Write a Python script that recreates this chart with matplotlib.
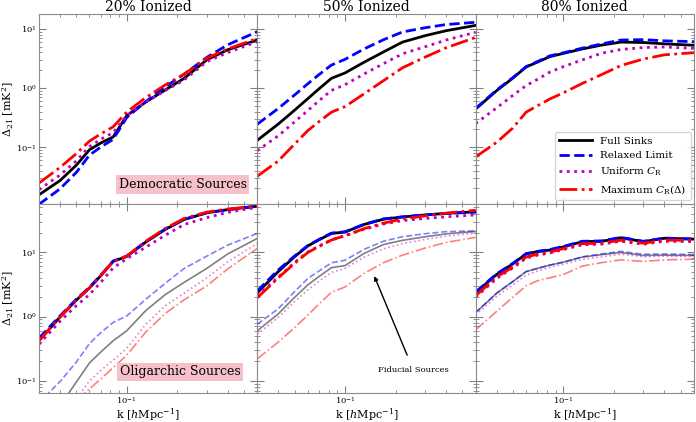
import numpy as np
import matplotlib
matplotlib.use("Agg")
import matplotlib.pyplot as plt

plt.rcParams["font.family"] = "serif"
plt.rcParams["font.serif"] = ["DejaVu Serif"]
plt.rcParams["mathtext.fontset"] = "dejavuserif"

# k bins (h/Mpc), shared by every curve
k = [0.03, 0.04, 0.05, 0.06, 0.07, 0.083, 0.1, 0.13, 0.17, 0.22, 0.3, 0.4, 0.6]

titles = ["20% Ionized", "50% Ionized", "80% Ionized"]
labels = ["Full Sinks", "Relaxed Limit", r"Uniform $C_{\rm R}$", r"Maximum $C_{\rm R}(\Delta)$"]

# top row: democratic sources  [full, relaxed, uniform, maximum]
dem_20 = [
    [0.0155, 0.027, 0.049, 0.09, 0.117, 0.148, 0.34, 0.58, 0.93, 1.46, 3.0, 4.45, 6.5],
    [0.0107, 0.0195, 0.037, 0.073, 0.1, 0.135, 0.316, 0.59, 1.05, 1.72, 3.3, 5.4, 9.0],
    [0.019, 0.0335, 0.058, 0.102, 0.135, 0.176, 0.34, 0.58, 0.91, 1.37, 2.8, 4.0, 6.1],
    [0.0245, 0.045, 0.077, 0.126, 0.167, 0.22, 0.39, 0.69, 1.13, 1.72, 3.2, 4.6, 6.9],
]
dem_50 = [
    [0.13, 0.245, 0.42, 0.66, 0.97, 1.46, 1.8, 2.74, 4.1, 6.0, 7.7, 9.35, 11.5],
    [0.244, 0.45, 0.76, 1.18, 1.69, 2.45, 3.06, 4.6, 6.6, 8.9, 10.5, 11.9, 13.0],
    [0.087, 0.155, 0.266, 0.415, 0.61, 0.91, 1.14, 1.73, 2.6, 3.8, 5.0, 6.5, 8.8],
    [0.032, 0.058, 0.112, 0.19, 0.27, 0.39, 0.485, 0.8, 1.34, 2.2, 3.34, 4.8, 7.2],
]
dem_80 = [
    [0.44, 0.9, 1.47, 2.27, 2.74, 3.4, 3.86, 4.6, 5.35, 6.0, 5.9, 5.6, 5.3],
    [0.45, 0.92, 1.5, 2.3, 2.8, 3.5, 3.95, 4.75, 5.6, 6.5, 6.6, 6.3, 6.1],
    [0.25, 0.46, 0.75, 1.1, 1.4, 1.86, 2.3, 3.0, 3.9, 4.5, 4.85, 4.95, 4.7],
    [0.068, 0.12, 0.21, 0.39, 0.5, 0.65, 0.83, 1.2, 1.7, 2.4, 3.1, 3.65, 3.97],
]

# bottom row: oligarchic sources
oli_20 = [
    [0.42, 0.98, 1.79, 2.78, 4.3, 7.2, 8.6, 14.4, 22.7, 32.3, 41, 46, 52],
    [0.46, 1.02, 1.85, 2.85, 4.4, 7.3, 8.7, 14.6, 23, 32.5, 41, 46, 52],
    [0.37, 0.84, 1.47, 2.2, 3.4, 5.7, 7.9, 12.0, 18.4, 27, 34.5, 41.7, 50],
    [0.42, 0.98, 1.8, 2.8, 4.3, 7.2, 8.7, 14.8, 23.5, 33.5, 42, 47, 52],
]
oli_50 = [
    [2.34, 5.0, 8.5, 12.5, 15.6, 19.6, 20.6, 27, 32.7, 35.3, 38, 40.2, 42.5],
    [2.5, 5.3, 8.7, 12.7, 15.8, 19.8, 20.8, 27.2, 33, 35.5, 38, 40, 42],
    [2.1, 4.1, 6.9, 10.1, 12.5, 15.6, 18.0, 22.8, 27.5, 31, 33.5, 35.5, 38],
    [1.96, 4.0, 6.7, 9.9, 12.3, 15.5, 18.1, 23.3, 28.4, 32.8, 36.8, 40.5, 45],
]
oli_80 = [
    [2.34, 4.5, 6.6, 9.4, 10.2, 10.8, 12.1, 14.6, 14.8, 16.8, 14.6, 16.5, 16],
    [2.4, 4.6, 6.7, 9.5, 10.3, 11, 12.3, 14.8, 15, 17, 14.8, 16.6, 16],
    [2.0, 3.9, 5.7, 8.1, 9.0, 9.7, 11.0, 13.0, 13.4, 14.8, 13.3, 14.8, 14.6],
    [2.1, 4.1, 5.9, 8.4, 9.3, 10.0, 11.4, 13.6, 13.8, 15.4, 13.8, 15.4, 15.3],
]

# faded curves in the bottom row: fiducial sources
fid_20 = [
    [0.0137, 0.041, 0.095, 0.19, 0.28, 0.42, 0.6, 1.24, 2.2, 3.4, 5.6, 9.4, 16.4],
    [0.046, 0.097, 0.195, 0.38, 0.56, 0.81, 1.02, 1.86, 3.3, 5.6, 8.7, 12.9, 19.6],
    [0.0083, 0.023, 0.052, 0.1, 0.145, 0.21, 0.32, 0.76, 1.48, 2.3, 4.0, 7.1, 13.7],
    [0.015, 0.029, 0.049, 0.075, 0.107, 0.16, 0.25, 0.575, 1.12, 1.82, 3.0, 5.5, 11.5],
]
fid_50 = [
    [0.6, 1.1, 1.98, 3.1, 4.2, 5.75, 6.2, 9.6, 13.2, 15.3, 17.4, 19.3, 21],
    [0.76, 1.32, 2.43, 3.9, 5.1, 6.85, 7.5, 11.1, 14.9, 17.4, 19.4, 20.9, 21.5],
    [0.53, 0.97, 1.7, 2.6, 3.54, 4.85, 5.6, 8.4, 11.3, 13.6, 15.8, 17.8, 19.8],
    [0.22, 0.4, 0.67, 1.05, 1.57, 2.38, 2.88, 4.7, 6.9, 9.0, 11.6, 14.2, 17],
]
fid_80 = [
    [1.15, 2.3, 3.5, 5.0, 5.6, 6.3, 7.0, 8.4, 9.2, 9.9, 8.9, 9.0, 8.9],
    [1.15, 2.3, 3.5, 5.0, 5.6, 6.3, 7.0, 8.5, 9.4, 10.3, 9.3, 9.4, 9.2],
    [1.06, 2.05, 3.1, 4.4, 5.1, 5.8, 6.5, 7.7, 8.5, 9.3, 8.5, 8.7, 8.6],
    [0.62, 1.2, 2.0, 3.0, 3.6, 4.0, 4.5, 6.1, 6.9, 7.6, 7.2, 7.6, 7.8],
]

colors = ["k", "b", "m", "r"]
styles = ["-", "--", ":", "-."]

fig, axes = plt.subplots(2, 3, figsize=(6.96, 4.22), dpi=100, sharex=True, sharey="row")
fig.subplots_adjust(left=0.056, right=0.997, top=0.967, bottom=0.068, wspace=0, hspace=0)

top = [dem_20, dem_50, dem_80]
bottom = [oli_20, oli_50, oli_80]
faded = [fid_20, fid_50, fid_80]

for j in range(3):
    ax = axes[0, j]
    for i in range(4):
        ax.plot(k, top[j][i], color=colors[i], ls=styles[i], lw=2, label=labels[i])
    ax.set_title(titles[j], fontsize=10, pad=2)

    ax = axes[1, j]
    for i in range(4):
        ax.plot(k, faded[j][i], color=colors[i], ls=styles[i], lw=1.2, alpha=0.5)
    for i in range(4):
        ax.plot(k, bottom[j][i], color=colors[i], ls=styles[i], lw=2)

for ax in axes.flat:
    ax.set_xscale("log")
    ax.set_yscale("log")
    ax.set_xlim(0.03, 0.6)
    ax.tick_params(which="both", direction="in", top=True, right=True,
                   color="0.5", labelsize=6, pad=1.5)
    ax.tick_params(which="major", length=5)
    ax.tick_params(which="minor", length=2.5)
    for s in ax.spines.values():
        s.set_color("0.55")

axes[0, 0].set_ylim(0.011, 18)
axes[1, 0].set_ylim(0.064, 57)

for ax in axes[:, 0]:
    ax.set_ylabel(r"$\Delta_{21}$ [mK$^2$]", fontsize=8, labelpad=0)
for ax in axes[1, :]:
    ax.set_xlabel(r"k [$h$Mpc$^{-1}$]", fontsize=8, labelpad=0)

axes[0, 2].legend(loc="lower right", fontsize=7.5, handlelength=3.2,
                  borderaxespad=0.3)

box = dict(facecolor="#f7c1cb", edgecolor="none", pad=2)
axes[0, 0].text(0.365, 0.1, "Democratic Sources", transform=axes[0, 0].transAxes,
                fontsize=9, va="center", ha="left", bbox=box)
axes[1, 0].text(0.37, 0.113, "Oligarchic Sources", transform=axes[1, 0].transAxes,
                fontsize=9, va="center", ha="left", bbox=box)
axes[1, 1].annotate("Fiducial Sources", xy=(0.536, 0.618), xytext=(0.714, 0.125),
                    xycoords="axes fraction", textcoords="axes fraction",
                    fontsize=6, ha="center", va="center",
                    arrowprops=dict(arrowstyle="-|>", color="k", lw=1, shrinkB=0, shrinkA=6))

fig.savefig("out.png", dpi=100)
